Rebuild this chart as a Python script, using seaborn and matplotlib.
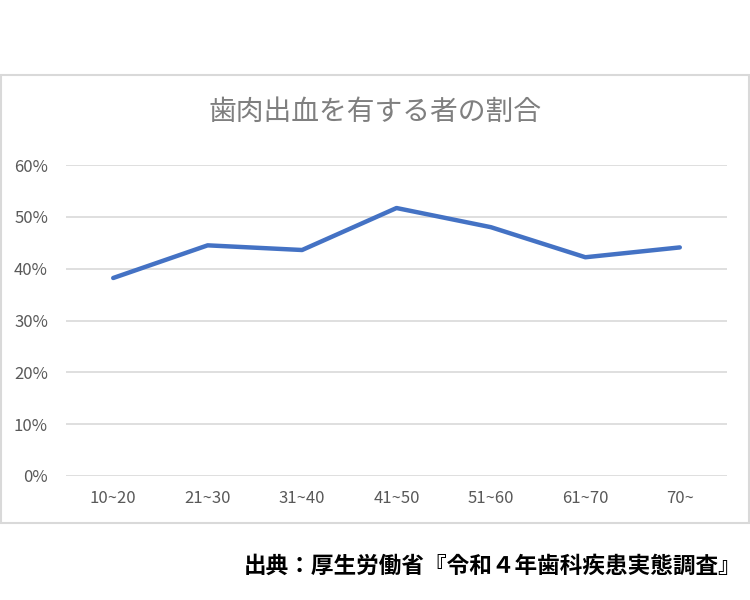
import matplotlib
matplotlib.use("Agg")
import matplotlib.pyplot as plt
import seaborn as sns
import pandas as pd
from matplotlib.patches import Rectangle
from matplotlib.ticker import PercentFormatter

# ----------------------------- data ----------------------------- #
age_groups = ["10~20", "21~30", "31~40", "41~50", "51~60", "61~70", "70~"]
bleeding_rate = [0.382, 0.445, 0.436, 0.517, 0.480, 0.422, 0.441]
y_ticks = [0.0, 0.1, 0.2, 0.3, 0.4, 0.5, 0.6]

chart_title = "歯肉出血を有する者の割合"
source_note = "出典：厚生労働省『令和４年歯科疾患実態調査』"

df = pd.DataFrame({"age": age_groups, "rate": bleeding_rate})

# ----------------------------- plot ----------------------------- #
sns.set_style("white")
plt.rcParams["font.family"] = ["Noto Sans CJK JP", "DejaVu Sans"]

fig = plt.figure(figsize=(7.5, 6), dpi=100)

# chart frame like the Excel chart area (kept behind the axes)
fig.patches.append(Rectangle((1 / 750, 1 - 523 / 600), 748 / 750, 448 / 600,
                             transform=fig.transFigure, facecolor="white",
                             edgecolor="#d9d9d9", linewidth=1.5, zorder=-5))

ax = fig.add_axes([66 / 750, 1 - 476 / 600, 661 / 750, 311 / 600])
ax.set_facecolor("none")
ax.set_zorder(2)

sns.lineplot(data=df, x="age", y="rate", ax=ax, color="#4472C4",
             linewidth=3.2, sort=False, solid_capstyle="round", zorder=3)

ax.set_xlim(-0.5, len(age_groups) - 0.5)
ax.set_ylim(0, 0.6)
ax.set_yticks(y_ticks)
ax.yaxis.set_major_formatter(PercentFormatter(1.0, decimals=0))
ax.grid(axis="y", color="#d9d9d9", linewidth=1.2)
ax.grid(axis="x", visible=False)
for side in ["top", "right", "left", "bottom"]:
    ax.spines[side].set_visible(False)
ax.tick_params(axis="both", length=0, labelsize=12, colors="#595959")
ax.tick_params(axis="y", pad=13)
ax.tick_params(axis="x", pad=10)
ax.set_xlabel("")
ax.set_ylabel("")

fig.text(0.5, 1 - 112 / 600, chart_title, ha="center", va="center",
         fontsize=20, color="#7f7f7f")
fig.text(741 / 750, 1 - 566 / 600, source_note, ha="right", va="center",
         fontsize=16.3, fontweight="bold", color="black")

fig.savefig("out.png", dpi=100)
